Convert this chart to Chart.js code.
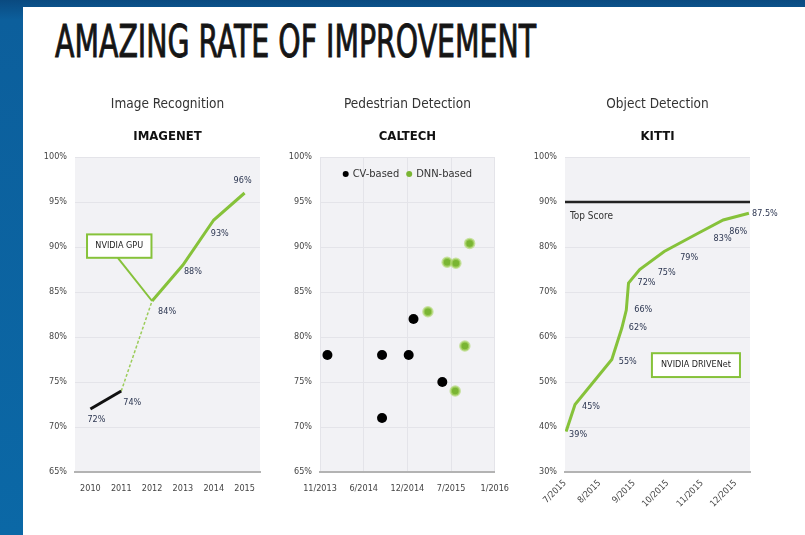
<!DOCTYPE html>
<html>
<head>
<meta charset="utf-8">
<script src="https://cdn.jsdelivr.net/npm/chart.js@4.4.0/dist/chart.umd.min.js"></script>
<style>
  html, body { margin: 0; padding: 0; }
  body {
    width: 805px; height: 535px; overflow: hidden; position: relative;
    background: linear-gradient(180deg, #0a4a80 0px, #0c5f9c 20px, #0b68a6 100%);
    font-family: "DejaVu Sans Condensed", "DejaVu Sans", sans-serif;
  }
  #panel { position: absolute; left: 23px; top: 7px; right: 0; bottom: 0; background: #fff; }
  #title {
    position: absolute; left: 55px; top: 20px; font-size: 44px; line-height: 44px;
    font-weight: normal; color: #151515; white-space: nowrap; transform-origin: 0 0;
    -webkit-text-stroke: 0.9px #151515;
  }
  canvas { position: absolute; }
  #c1 { left: 30px; top: 90px; }
  #c2 { left: 280px; top: 90px; }
  #c3 { left: 520px; top: 90px; }
</style>
</head>
<body>
<div id="panel"></div>
<div id="title">AMAZING RATE OF IMPROVEMENT</div>
<canvas id="c1" width="240" height="412"></canvas>
<canvas id="c2" width="240" height="412"></canvas>
<canvas id="c3" width="285" height="427"></canvas>

<script>
// --- Image Recognition (ImageNet) ---
const years = ['2010', '2011', '2012', '2013', '2014', '2015'];
const cpuAccuracy = [72, 74, null, null, null, null];
const gpuAccuracy = [null, 74, 84, 88, 93, 96];

// --- Pedestrian Detection (Caltech) ---
const caltechTickStart = '2013-11-15';
const caltechTickDays = 200;
const cvDates = ['2013-12-19', '2014-08-26', '2014-08-26', '2014-12-26', '2015-01-17', '2015-05-29'];
const cvScores = [78, 78, 71, 78, 82, 75];
const dnnDates = ['2015-03-24', '2015-06-20', '2015-07-30', '2015-07-27', '2015-09-09', '2015-10-01'];
const dnnScores = [82.8, 88.3, 88.2, 74, 79, 90.4];

// --- Object Detection (KITTI) ---
const kittiMonths = ['2015-07-01', '2015-08-01', '2015-09-01', '2015-10-01', '2015-11-01', '2015-12-01'];
const kittiEnd = '2015-12-14';
const kittiDates = ['2015-07-02', '2015-07-10', '2015-08-12', '2015-08-21', '2015-08-25', '2015-08-27',
                    '2015-09-06', '2015-09-28', '2015-10-28', '2015-11-20', '2015-12-13'];
const kittiScores = [39, 45, 55, 62, 66, 72, 75, 79, 83, 86, 87.5];
const topScore = 90;

const FONT = '"DejaVu Sans Condensed", "DejaVu Sans", sans-serif';
const GREEN = '#86c23a';
const LABEL_COLOR = '#2b3550';

function day(s) { return Date.parse(s + 'T00:00:00Z') / 86400000; }
function monthYear(d) {
  const dt = new Date(d * 86400000);
  return (dt.getUTCMonth() + 1) + '/' + dt.getUTCFullYear();
}

// gray plot area
const plotBg = {
  id: 'plotBg',
  beforeDraw(chart) {
    const a = chart.chartArea, ctx = chart.ctx;
    ctx.save();
    ctx.fillStyle = '#f2f2f5';
    ctx.fillRect(a.left, a.top, a.right - a.left, a.bottom - a.top);
    ctx.restore();
  }
};

// value labels beside points
const valueTags = {
  id: 'valueTags',
  afterDatasetsDraw(chart) {
    const ctx = chart.ctx;
    chart.data.datasets.forEach((ds, di) => {
      if (!ds.tagDx) return;
      const meta = chart.getDatasetMeta(di);
      ctx.save();
      ctx.font = (ds.tagFont || '9px') + ' ' + FONT;
      ctx.fillStyle = ds.tagColor || LABEL_COLOR;
      ctx.textAlign = ds.tagAlign || 'center';
      ctx.textBaseline = 'middle';
      meta.data.forEach((p, i) => {
        if (ds.tagDx[i] == null) return;
        const raw = ds.data[i];
        const v = raw && typeof raw === 'object' ? raw.y : raw;
        if (v == null) return;
        const txt = ds.tagText ? ds.tagText[i] : v + '%';
        ctx.fillText(txt, p.x + ds.tagDx[i], p.y + ds.tagDy[i]);
      });
      ctx.restore();
    });
  }
};

// horizontal legend inside the top of the plot area
const innerLegend = {
  id: 'innerLegend',
  afterDatasetsDraw(chart) {
    const ctx = chart.ctx, a = chart.chartArea;
    ctx.save();
    ctx.font = '11px ' + FONT;
    ctx.textBaseline = 'middle';
    const items = chart.data.datasets.map(ds => ({ text: ds.label, color: ds.backgroundColor }));
    const gap = 7, dot = 3, sp = 4;
    const total = items.reduce((s, it) => s + dot * 2 + sp + ctx.measureText(it.text).width, 0) + gap * (items.length - 1);
    let x = (a.left + a.right) / 2 - total / 2;
    const y = a.top + 17;
    items.forEach(it => {
      ctx.fillStyle = it.color;
      ctx.beginPath();
      ctx.arc(x + dot, y, dot, 0, Math.PI * 2);
      ctx.fill();
      x += dot * 2 + sp;
      ctx.fillStyle = '#333';
      ctx.fillText(it.text, x, y);
      x += ctx.measureText(it.text).width + gap;
    });
    ctx.restore();
  }
};

// green callout boxes
const callout = {
  id: 'callout',
  afterDatasetsDraw(chart, args, opts) {
    if (!opts || !opts.text) return;
    const xs = chart.scales.x, ys = chart.scales.y, ctx = chart.ctx;
    const x0 = xs.getPixelForValue(opts.x0), x1 = xs.getPixelForValue(opts.x1);
    const y0 = ys.getPixelForValue(opts.y0), y1 = ys.getPixelForValue(opts.y1);
    ctx.save();
    if (opts.from) {
      ctx.strokeStyle = GREEN;
      ctx.lineWidth = 2;
      ctx.beginPath();
      ctx.moveTo(xs.getPixelForValue(opts.from[0]), ys.getPixelForValue(opts.from[1]));
      ctx.lineTo(xs.getPixelForValue(opts.to[0]), ys.getPixelForValue(opts.to[1]));
      ctx.stroke();
    }
    ctx.fillStyle = '#fff';
    ctx.fillRect(x0, y0, x1 - x0, y1 - y0);
    ctx.strokeStyle = GREEN;
    ctx.lineWidth = 2;
    ctx.strokeRect(x0, y0, x1 - x0, y1 - y0);
    ctx.fillStyle = '#222';
    ctx.font = '9px ' + FONT;
    ctx.textAlign = 'center';
    ctx.textBaseline = 'middle';
    ctx.fillText(opts.text, (x0 + x1) / 2, (y0 + y1) / 2);
    ctx.restore();
  }
};

function titles(main, sub) {
  return {
    title: { display: true, text: main, fullSize: false, color: '#333',
             font: { family: FONT, size: 13.5, weight: 'normal', lineHeight: 1.2 }, padding: { top: 6, bottom: 16.6 } },
    subtitle: { display: true, text: sub, fullSize: false, color: '#111',
                font: { family: FONT, size: 13, weight: 'bold', lineHeight: 1.2 }, padding: { top: 0, bottom: 12.6 } }
  };
}

function yScale(min, max, step, width) {
  return {
    min: min, max: max,
    afterFit: s => { s.width = width; },
    border: { display: false },
    grid: { color: '#e4e4e9', drawTicks: false },
    ticks: { stepSize: step, padding: 8, color: '#444', font: { family: FONT, size: 9 },
             callback: v => v + '%' }
  };
}

const xBorder = { color: '#b3b3b3', width: 2 };
const tickFont = { family: FONT, size: 9 };

Chart.defaults.animation = false;
Chart.defaults.responsive = false;

// chart 1
new Chart(document.getElementById('c1'), {
  type: 'line',
  data: {
    labels: years,
    datasets: [
      { data: cpuAccuracy, borderColor: '#111', borderWidth: 3, pointRadius: 0,
        tagDx: [6, 11], tagDy: [11, 12] },
      { data: gpuAccuracy, borderColor: GREEN, borderWidth: 3, pointRadius: 0,
        segment: {
          borderDash: c => c.p0DataIndex === 1 ? [3, 2] : undefined,
          borderWidth: c => c.p0DataIndex === 1 ? 1.5 : undefined,
          borderColor: c => c.p0DataIndex === 1 ? '#9ccc5a' : undefined
        },
        tagDx: [null, null, 15, 10, 6, -2], tagDy: [null, null, 11, 7, 14, -12] }
    ]
  },
  options: {
    layout: { padding: { right: 10 } },
    plugins: Object.assign({ legend: { display: false }, tooltip: { enabled: false },
      callout: { text: 'NVIDIA GPU', x0: -0.11, x1: 1.98, y0: 91.4, y1: 88.8, from: [0.89, 88.8], to: [2, 84] } },
      titles('Image Recognition', 'IMAGENET')),
    scales: {
      x: { offset: true, afterFit: s => { s.height = 30; }, border: xBorder,
           grid: { display: false, drawTicks: false },
           ticks: { padding: 11, color: '#444', font: tickFont } },
      y: yScale(65, 100, 5, 45)
    }
  },
  plugins: [plotBg, valueTags, callout]
});

// chart 2
const cStart = day(caltechTickStart);
new Chart(document.getElementById('c2'), {
  type: 'scatter',
  data: {
    datasets: [
      { label: 'CV-based', data: cvDates.map((d, i) => ({ x: day(d), y: cvScores[i] })),
        backgroundColor: '#000', borderColor: '#000', pointRadius: 5, borderWidth: 0 },
      { label: 'DNN-based', data: dnnDates.map((d, i) => ({ x: day(d), y: dnnScores[i] })),
        backgroundColor: '#7ab533', borderColor: 'rgba(175,215,110,0.65)', pointRadius: 4.5, borderWidth: 2.5 }
    ]
  },
  options: {
    layout: { padding: { right: 17 } },
    plugins: Object.assign({
      tooltip: { enabled: false },
      legend: { display: false }
    }, titles('Pedestrian Detection', 'CALTECH')),
    scales: {
      x: { type: 'linear', min: cStart, max: cStart + 4 * caltechTickDays,
           afterBuildTicks: s => { s.ticks = [0, 1, 2, 3, 4].map(k => ({ value: cStart + k * caltechTickDays })); },
           afterFit: s => { s.height = 30; }, border: xBorder,
           grid: { color: '#e4e4e9', drawTicks: false },
           ticks: { padding: 11, color: '#444', font: tickFont, callback: v => monthYear(v) } },
      y: yScale(65, 100, 5, 40)
    }
  },
  plugins: [plotBg, innerLegend]
});

// chart 3
const kStart = day(kittiMonths[0]), kEnd = day(kittiEnd);
new Chart(document.getElementById('c3'), {
  type: 'line',
  data: {
    datasets: [
      { data: [{ x: kStart, y: topScore }, { x: kEnd, y: topScore }], borderColor: '#222', borderWidth: 2.5,
        pointRadius: 0, tagText: ['Top Score', null], tagDx: [5, null], tagDy: [14, null], tagAlign: 'left',
        tagColor: '#333', tagFont: '10px' },
      { data: kittiDates.map((d, i) => ({ x: day(d), y: kittiScores[i] })), borderColor: GREEN, borderWidth: 3,
        pointRadius: 0,
        tagDx: [12, 16, 16, 16, 17, 18, 27, 25, 25, 15, 16],
        tagDy: [3, 2, 2, 0, 0, 0, 3, 6, 5, 12, 0] }
    ]
  },
  options: {
    layout: { padding: { right: 55 } },
    plugins: Object.assign({ legend: { display: false }, tooltip: { enabled: false },
      callout: { text: 'NVIDIA DRIVENet', x0: day('2015-09-17'), x1: day('2015-12-05'), y0: 56.4, y1: 51.1 } },
      titles('Object Detection', 'KITTI')),
    scales: {
      x: { type: 'linear', min: kStart, max: kEnd,
           afterBuildTicks: s => { s.ticks = kittiMonths.map(m => ({ value: day(m) })); },
           afterFit: s => { s.height = 45; }, border: xBorder,
           grid: { display: false, drawTicks: false },
           ticks: { padding: 6, color: '#444', font: tickFont, minRotation: 45, maxRotation: 45,
                    callback: v => monthYear(v) } },
      y: yScale(30, 100, 10, 45)
    }
  },
  plugins: [plotBg, valueTags, callout]
});

// squeeze the headline to the slide's condensed width
const t = document.getElementById('title');
t.style.transform = 'scaleX(' + (481 / t.offsetWidth) + ')';
</script>
</body>
</html>
